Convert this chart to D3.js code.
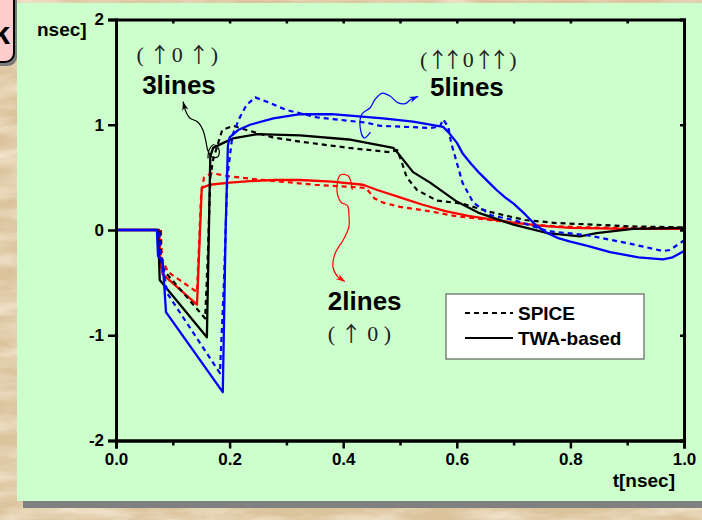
<!DOCTYPE html>
<html>
<head>
<meta charset="utf-8">
<script src="https://cdn.jsdelivr.net/npm/d3@7"></script>
<style>
  html, body { margin: 0; padding: 0; background: #d8bf97; }
  svg { display: block; }
</style>
</head>
<body>
<svg id="chart" width="702" height="520"></svg>
<script>
// ---- Data: transient waveforms, t in nsec ----
const xTicks = [0, 0.2, 0.4, 0.6, 0.8, 1.0];
const xMinorTicks = [0.1, 0.3, 0.5, 0.7, 0.9];
const yTicks = [-2, -1, 0, 1, 2];

// 2 lines (↑0) — red
const red2TWA = [[0,0],[0.076,0],[0.078,-0.30],[0.082,-0.42],[0.1426,-0.71],[0.151,0.40],[0.165,0.43],[0.20,0.45],[0.236,0.465],[0.28,0.475],[0.324,0.475],[0.38,0.46],[0.435,0.43],[0.46,0.38],[0.50,0.31],[0.54,0.24],[0.58,0.18],[0.62,0.135],[0.66,0.10],[0.70,0.07],[0.75,0.04],[0.80,0.02],[0.90,0.01],[1.0,0.01]];
const red2SPICE = [[0,0],[0.079,0],[0.081,-0.28],[0.092,-0.40],[0.1426,-0.59],[0.150,0.35],[0.155,0.50],[0.168,0.54],[0.20,0.51],[0.25,0.48],[0.30,0.455],[0.35,0.43],[0.41,0.41],[0.44,0.40],[0.455,0.30],[0.47,0.26],[0.50,0.22],[0.55,0.18],[0.60,0.13],[0.65,0.10],[0.70,0.07],[0.76,0.04],[0.82,0.025],[0.90,0.02],[1.0,0.02]];

// 3 lines (↑0↑) — black
const black3TWA = [[0,0],[0.074,0],[0.077,-0.475],[0.160,-1.02],[0.166,0.70],[0.171,0.78],[0.19,0.83],[0.206,0.87],[0.248,0.91],[0.324,0.90],[0.41,0.86],[0.488,0.78],[0.495,0.74],[0.523,0.55],[0.553,0.45],[0.60,0.27],[0.64,0.16],[0.70,0.05],[0.76,-0.03],[0.817,-0.06],[0.846,-0.03],[0.91,0.01],[1.0,0.02]];
const black3SPICE = [[0,0],[0.078,0],[0.080,-0.33],[0.09,-0.42],[0.157,-0.84],[0.162,-0.2],[0.166,0.50],[0.171,0.67],[0.187,0.95],[0.206,0.99],[0.23,0.95],[0.276,0.88],[0.324,0.84],[0.41,0.78],[0.482,0.74],[0.495,0.76],[0.502,0.66],[0.512,0.50],[0.53,0.38],[0.565,0.28],[0.61,0.25],[0.66,0.17],[0.72,0.095],[0.776,0.066],[0.846,0.05],[0.90,0.035],[1.0,0.025]];

// 5 lines (↑↑0↑↑) — blue
const blue5TWA = [[0,0],[0.072,0],[0.074,-0.25],[0.082,-0.28],[0.088,-0.78],[0.188,-1.54],[0.193,0.0],[0.197,0.80],[0.20,0.88],[0.215,0.95],[0.236,1.0],[0.277,1.06],[0.324,1.10],[0.38,1.10],[0.47,1.06],[0.523,1.03],[0.576,0.98],[0.585,0.93],[0.60,0.83],[0.61,0.73],[0.625,0.63],[0.64,0.54],[0.655,0.46],[0.67,0.38],[0.685,0.31],[0.70,0.25],[0.72,0.15],[0.74,0.04],[0.76,-0.03],[0.78,-0.08],[0.80,-0.11],[0.83,-0.15],[0.87,-0.21],[0.92,-0.26],[0.963,-0.28],[0.98,-0.26],[1.0,-0.20]];
const blue5SPICE = [[0,0],[0.076,0],[0.080,-0.30],[0.085,-0.42],[0.09,-0.60],[0.183,-1.36],[0.19,-0.5],[0.196,0.5],[0.205,0.90],[0.218,1.07],[0.23,1.19],[0.245,1.26],[0.265,1.22],[0.30,1.14],[0.354,1.07],[0.44,1.02],[0.465,0.99],[0.553,0.97],[0.57,0.98],[0.576,1.05],[0.585,0.98],[0.59,0.83],[0.60,0.64],[0.61,0.45],[0.629,0.26],[0.66,0.14],[0.70,0.095],[0.76,-0.01],[0.83,-0.05],[0.905,-0.13],[0.963,-0.20],[0.975,-0.19],[1.0,-0.10]];

const series = [
  { pts: red2SPICE,   color: "#ff0000", dashed: true },
  { pts: red2TWA,     color: "#ff0000", dashed: false },
  { pts: black3SPICE, color: "#000000", dashed: true },
  { pts: black3TWA,   color: "#000000", dashed: false },
  { pts: blue5SPICE,  color: "#0000ff", dashed: true },
  { pts: blue5TWA,    color: "#0000ff", dashed: false }
];

// Hand-drawn pointer strokes (in data units)
const pointerBlack = [[0.162,0.68],[0.164,0.76],[0.172,0.81],[0.181,0.77],[0.180,0.70],[0.170,0.69],[0.162,0.75],[0.158,0.85],[0.153,0.95],[0.144,1.026],[0.130,1.064],[0.122,1.14],[0.118,1.22]];
const pointerBlue = [[0.448,0.93],[0.437,0.874],[0.430,0.969],[0.433,1.102],[0.447,1.159],[0.456,1.24],[0.469,1.30],[0.483,1.27],[0.496,1.21],[0.509,1.20],[0.519,1.24],[0.532,1.27]];
const pointerRed = [[0.416,0.38],[0.409,0.513],[0.395,0.523],[0.389,0.38],[0.396,0.266],[0.408,0.228],[0.410,0.143],[0.410,0.029],[0.400,-0.095],[0.386,-0.219],[0.382,-0.352],[0.391,-0.447],[0.403,-0.49]];

// Line-pattern labels: pieces alternate between plain glyphs and arrow glyphs
const patternLabels = [
  { parts: ["( ", "\u2191", " 0 ", "\u2191", " )"], t: 0.036, v: 1.60, squeeze: -4 },
  { parts: ["(", "\u2191\u2191", " 0", "\u2191\u2191", " )"], t: 0.535, v: 1.55, squeeze: -6 },
  { parts: ["( ", "\u2191", " 0 )"], t: 0.373, v: -1.05, squeeze: 0 }
];
const nameLabels = [
  { text: "3lines", t: 0.046, v: 1.29 },
  { text: "5lines", t: 0.553, v: 1.27 },
  { text: "2lines", t: 0.373, v: -0.76 }
];

const legendItems = [
  { name: "SPICE", dashed: true },
  { name: "TWA-based", dashed: false }
];

// ---- Drawing ----
const svg = d3.select("#chart");
const defs = svg.append("defs");

// Parchment texture for the page background
const paper = defs.append("filter").attr("id", "paper").attr("x", 0).attr("y", 0).attr("width", "100%").attr("height", "100%");
paper.append("feTurbulence").attr("type", "fractalNoise").attr("baseFrequency", "0.015 0.06").attr("numOctaves", 4).attr("seed", 7).attr("result", "n");
paper.append("feColorMatrix").attr("in", "n").attr("type", "matrix")
  .attr("values", "0 0 0 0 0.96  0 0 0 0 0.88  0 0 0 0 0.74  0 0 0 1.6 -0.55");
const paperDark = defs.append("filter").attr("id", "paperDark").attr("x", 0).attr("y", 0).attr("width", "100%").attr("height", "100%");
paperDark.append("feTurbulence").attr("type", "fractalNoise").attr("baseFrequency", "0.03 0.09").attr("numOctaves", 3).attr("seed", 21).attr("result", "n");
paperDark.append("feColorMatrix").attr("in", "n").attr("type", "matrix")
  .attr("values", "0 0 0 0 0.74  0 0 0 0 0.60  0 0 0 0 0.42  0 0 0 -1.8 1.0");

svg.append("rect").attr("width", 702).attr("height", 520).attr("fill", "#dbc39c");
svg.append("rect").attr("width", 702).attr("height", 520).attr("filter", "url(#paper)");
svg.append("rect").attr("width", 702).attr("height", 520).attr("filter", "url(#paperDark)").attr("opacity", 0.4);

// Side tab with a rounded border
svg.append("rect").attr("x", -20).attr("y", -20).attr("width", 37).attr("height", 86).attr("rx", 9).attr("fill", "#7a7a7a");
svg.append("rect").attr("x", -22).attr("y", -22).attr("width", 36).attr("height", 84).attr("rx", 9)
  .attr("fill", "#ffcccc").attr("stroke", "#000").attr("stroke-width", 2);
svg.append("text").attr("x", 10).attr("y", 44).attr("text-anchor", "end")
  .attr("font-family", "Liberation Sans, Arial, sans-serif").attr("font-weight", "bold").attr("font-size", 32).text("k");

// Chart panel with drop shadow
svg.append("rect").attr("x", 23).attr("y", 9).attr("width", 700).attr("height", 499).attr("fill", "#808080");
svg.append("rect").attr("x", 17).attr("y", 3).attr("width", 700).attr("height", 498).attr("fill", "#ccffcc");

const x = d3.scaleLinear().domain([0, 1]).range([116, 684]);
const y = d3.scaleLinear().domain([-2, 2]).range([440.5, 19.5]);
const font = "Liberation Sans, Arial, Helvetica, sans-serif";

const line = d3.line().x(d => x(d[0])).y(d => y(d[1])).curve(d3.curveLinear);

const plot = svg.append("g");
series.forEach(s => {
  plot.append("path").attr("d", line(s.pts)).attr("fill", "none")
    .attr("stroke", s.color).attr("stroke-width", s.dashed ? 2.2 : 2.3)
    .attr("stroke-linejoin", "round")
    .attr("stroke-dasharray", s.dashed ? "5,4" : null);
});

// Frame and axes
const axisStyle = g => {
  g.select(".domain").attr("stroke-width", 3);
  g.selectAll(".tick line").attr("stroke-width", 2.5);
  g.selectAll(".tick text").attr("font-family", font).attr("font-weight", "bold").attr("font-size", 17).attr("fill", "#000");
};
svg.append("g").attr("transform", `translate(0,${y(-2)})`)
  .call(d3.axisBottom(x).tickValues(xTicks).tickSize(8).tickPadding(4).tickFormat(d3.format(".1f")))
  .call(axisStyle);
svg.append("g").attr("transform", `translate(0,${y(-2)})`)
  .call(d3.axisBottom(x).tickValues(xMinorTicks).tickSize(5).tickFormat(""))
  .call(axisStyle);
svg.append("g").attr("transform", `translate(0,${y(2)})`)
  .call(d3.axisBottom(x).tickValues(xTicks.concat(xMinorTicks)).tickSize(4).tickFormat(""))
  .call(axisStyle);
svg.append("g").attr("transform", `translate(${x(0)},0)`)
  .call(d3.axisLeft(y).tickValues(yTicks).tickSize(8).tickPadding(4).tickFormat(d => String(d)))
  .call(axisStyle);
svg.append("g").attr("transform", `translate(${x(1)},0)`)
  .call(d3.axisLeft(y).tickValues(yTicks).tickSize(4).tickFormat(""))
  .call(axisStyle);

svg.append("text").attr("x", 37).attr("y", 36).attr("font-family", font).attr("font-weight", "bold").attr("font-size", 19).text("nsec]");
svg.append("text").attr("x", 675).attr("y", 487).attr("text-anchor", "end").attr("font-family", font).attr("font-weight", "bold").attr("font-size", 19).text("t[nsec]");

// Pointer strokes with arrowheads
const pline = d3.line().x(d => x(d[0])).y(d => y(d[1])).curve(d3.curveCatmullRom.alpha(0.5));
function pointer(pts, color) {
  plot.append("path").attr("d", pline(pts)).attr("fill", "none").attr("stroke", color).attr("stroke-width", 1.2);
  const a = pts[pts.length - 2], b = pts[pts.length - 1];
  const ax = x(a[0]), ay = y(a[1]), bx = x(b[0]), by = y(b[1]);
  const ang = Math.atan2(by - ay, bx - ax);
  const L = 9, W = 3.2;
  const p1 = [bx - L * Math.cos(ang) + W * Math.sin(ang), by - L * Math.sin(ang) - W * Math.cos(ang)];
  const p2 = [bx - L * Math.cos(ang) - W * Math.sin(ang), by - L * Math.sin(ang) + W * Math.cos(ang)];
  const p3 = [bx - 6 * Math.cos(ang), by - 6 * Math.sin(ang)];
  plot.append("path").attr("d", `M${bx},${by}L${p1}L${p3}L${p2}Z`).attr("fill", color);
}
pointer(pointerBlack, "#000");
pointer(pointerBlue, "#0000ff");
pointer(pointerRed, "#ff0000");

patternLabels.forEach(l => {
  const t = svg.append("text").attr("x", x(l.t)).attr("y", y(l.v))
    .attr("font-family", "Liberation Serif, DejaVu Serif, serif").attr("font-size", 22).attr("fill", "#222")
    .attr("xml:space", "preserve");
  l.parts.forEach((p, i) => {
    const ts = t.append("tspan").text(p);
    if (i % 2 === 1) ts.attr("font-family", "Noto Sans CJK JP, DejaVu Sans, sans-serif").attr("font-size", 21)
      .attr("letter-spacing", l.squeeze);
  });
});
nameLabels.forEach(l => {
  svg.append("text").attr("x", x(l.t)).attr("y", y(l.v))
    .attr("font-family", font).attr("font-weight", "bold").attr("font-size", 26).attr("fill", "#000").text(l.text);
});

// Legend
const lg = svg.append("g").attr("transform", "translate(446,294)");
lg.append("rect").attr("width", 198).attr("height", 65).attr("fill", "#fff").attr("stroke", "#444").attr("stroke-width", 1);
legendItems.forEach((d, i) => {
  const cy = 19 + i * 25;
  lg.append("line").attr("x1", 19).attr("x2", 67).attr("y1", cy).attr("y2", cy)
    .attr("stroke", "#000").attr("stroke-width", 2).attr("stroke-dasharray", d.dashed ? "5,4" : null);
  lg.append("text").attr("x", 72).attr("y", cy + 7).attr("font-family", font).attr("font-weight", "bold").attr("font-size", 19).text(d.name);
});
</script>
</body>
</html>
